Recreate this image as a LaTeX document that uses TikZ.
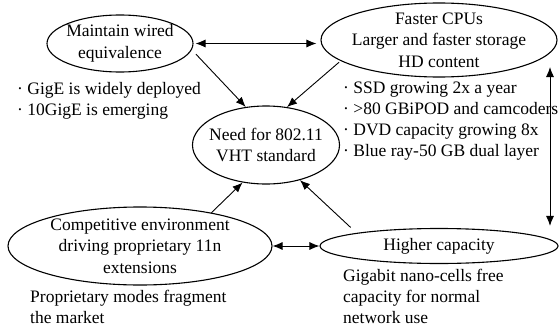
\documentclass[tikz,border=0pt]{standalone}
\usepackage{fontspec}
\setmainfont{Liberation Serif}
\usetikzlibrary{arrows.meta,calc,positioning,shapes.geometric}
\tikzset{%
	bubble/.style = {draw, ellipse, line width=1.1pt, inner sep=-30pt, align=center, font=\fontsize{17.5}{21.5}\selectfont},
	note/.style   = {anchor=west, align=left, inner sep=0pt, font=\fontsize{17.5}{21}\selectfont},
	arrow/.style  = {line width=0.9pt, ->, >={Latex[length=10pt,width=8pt]}},
}
\begin{document}
\begin{tikzpicture}[x=1pt,y=-1pt]
	\useasboundingbox (0,0) rectangle (559,329);
	% the five ellipses
	\node[bubble, minimum width=146pt, minimum height=57pt] (wired) at (120,43.5) {Maintain wired\\equivalence};
	\node[bubble, minimum width=236pt, minimum height=74pt] (cpus) at (439,40) {Faster CPUs\\Larger and faster storage\\HD content};
	\node[bubble, minimum width=147pt, minimum height=78pt] (need) at (266,145) {Need for 802.11\\VHT standard};
	\node[bubble, minimum width=264pt, minimum height=78pt] (comp) at (140,246) {Competitive environment\\driving proprietary 11n\\extensions};
	\node[bubble, minimum width=238pt, minimum height=35pt] (cap) at (439,246) {Higher capacity};
	% notes under the ellipses
	\node[note] (gige) at (17,100.5) {· GigE is widely deployed\\· 10GigE is emerging};
	\node[note] (media) at (343,121.5) {· SSD growing 2x a year\\· >80 GBiPOD and camcoders\\· DVD capacity growing 8x\\· Blue ray-50 GB dual layer};
	\node[note] (prop) at (30,307) {Proprietary modes fragment\\the market};
	\node[note] (nano) at (343,296.5) {Gigabit nano-cells free\\capacity for normal\\network use};
	\coordinate (vtop) at (550,67);
	% arrows
	\draw[arrow, <->, shorten <=2pt, shorten >=4pt] (wired.east) -- (wired.east -| cpus.west);
	\draw[arrow, <->] (comp.east) -- (comp.east -| cap.west);
	\draw[arrow, <->, shorten >=2pt] (vtop) -- (vtop |- cap.north);
	\draw[arrow, shorten <=6pt] (wired.-5) -- (need.118);
	\draw[arrow, shorten <=2pt] (cpus.192) -- (need.61);
	\draw[arrow] (comp.25) -- (need.238);
	\draw[arrow, shorten <=8pt] (cap.171) -- (need.-46);
\end{tikzpicture}
\end{document}
